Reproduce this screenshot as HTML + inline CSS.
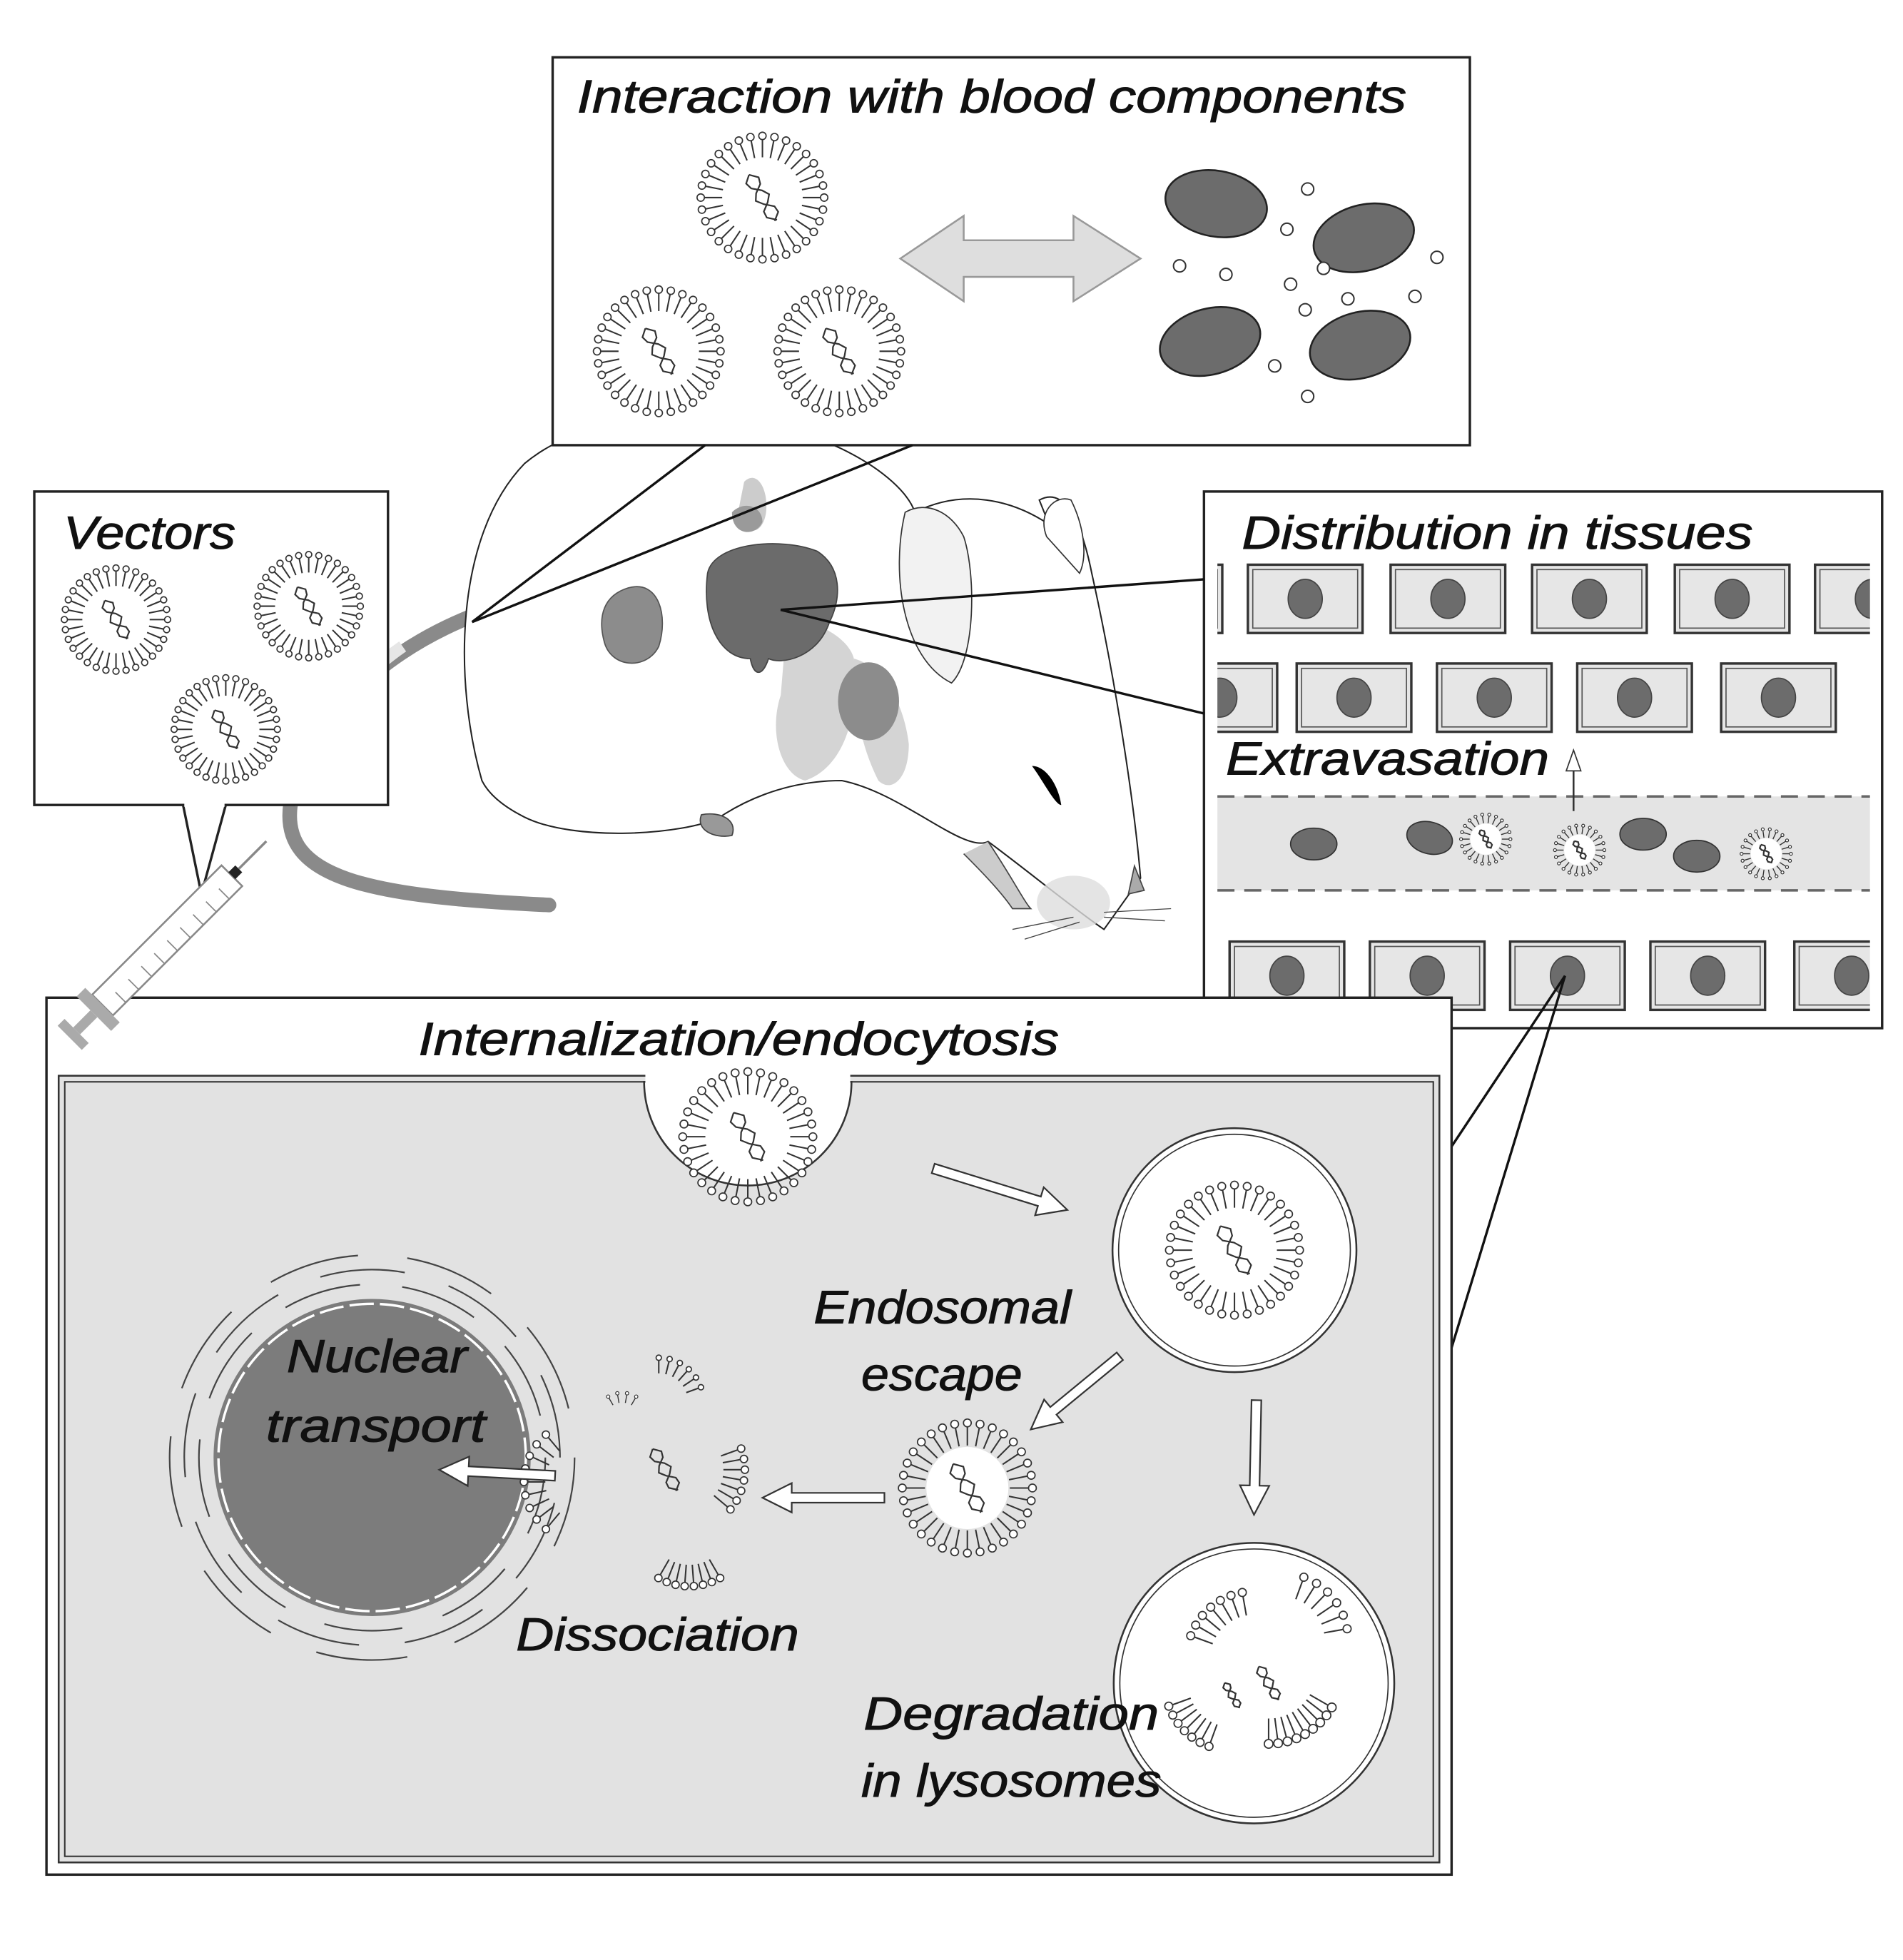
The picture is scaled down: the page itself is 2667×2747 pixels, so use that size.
<!DOCTYPE html>
<html><head><meta charset="utf-8"><style>
html,body{margin:0;padding:0;background:#fff}
svg{display:block}
text{font-family:"Liberation Sans",sans-serif;font-style:italic;fill:#111;stroke:#111;stroke-width:0.6}
</style></head><body>
<svg id="s" width="2667" height="2747" viewBox="0 0 1560 1607" xmlns="http://www.w3.org/2000/svg">

<!-- Mouse tail -->
<path d="M387,505 C300,540 250,600 238,660 C230,720 300,735 450,742" fill="none" stroke="#8a8a8a" stroke-width="12" stroke-linecap="round"/>
<path d="M330,530 C280,565 250,610 238,660" fill="none" stroke="#e6e6e6" stroke-width="10"/>
<!-- Mouse body -->
<path d="M395,640 C372,560 372,440 430,380 C490,330 610,330 690,368 C725,385 745,405 750,420 C790,400 830,410 860,430 L852,410 C870,400 885,420 895,470 C915,560 930,660 935,720 L905,762 C880,745 840,712 810,690 C790,700 740,650 690,640 C640,640 605,660 590,670 C560,685 470,690 430,670 C410,660 400,650 395,640 Z" fill="#fff" stroke="#222" stroke-width="1.2"/>
<path d="M810,690 C830,720 840,740 845,745 L830,745 C820,730 800,710 790,700" fill="#ccc" stroke="#444" stroke-width="1"/>
<path d="M575,668 C590,665 605,672 600,685 C585,688 570,680 575,668Z" fill="#999" stroke="#444"/>
<path d="M930,710 L938,730 L925,733 Z" fill="#aaa" stroke="#444"/>
<ellipse cx="880" cy="740" rx="30" ry="22" fill="#ddd" opacity="0.8"/>
<path d="M742,420 C730,470 740,540 780,560 C800,540 800,470 790,440 C780,420 760,410 742,420Z" fill="#f2f2f2" stroke="#333" stroke-width="1"/>
<path d="M858,440 C850,420 865,405 878,410 C888,430 892,455 885,470 Z" fill="#fff" stroke="#333" stroke-width="1"/>
<path d="M846,628 C855,640 865,660 870,660 C868,645 858,628 846,628Z" fill="#000"/>
<path d="M610,395 C620,385 630,400 628,420 C625,440 610,440 605,420 Z" fill="#ccc"/>
<path d="M600,420 C610,410 625,415 625,428 C620,440 600,440 600,420Z" fill="#9a9a9a"/>
<path d="M515,482 C540,475 548,505 540,530 C530,550 500,548 495,525 C490,505 495,488 515,482Z" fill="#8c8c8c" stroke="#555"/>
<path d="M645,510 C660,505 695,520 700,540 C705,590 690,630 660,640 C640,635 630,600 640,570 Z" fill="#d4d4d4"/>
<path d="M700,540 C720,545 740,570 745,610 C745,640 730,650 720,640 C705,610 700,580 700,540Z" fill="#d4d4d4"/>
<path d="M580,470 C585,445 640,440 670,452 C690,465 690,490 680,510 C670,540 640,545 630,540 C625,555 618,555 615,540 C590,540 575,510 580,470Z" fill="#6b6b6b" stroke="#444"/>
<ellipse cx="712" cy="575" rx="25" ry="32" fill="#8c8c8c"/>
<path d="M880,752 L830,762 M885,756 L840,770 M905,748 L960,745 M905,752 L955,755" stroke="#444" stroke-width="0.8"/>

<!-- Top box -->
<rect x="453" y="47" width="752" height="318" fill="#fff" stroke="#222" stroke-width="2"/>
<text x="473" y="92" font-size="38" textLength="680" lengthAdjust="spacingAndGlyphs">Interaction with blood components</text>
<path d="M738,212 L790,177 L790,197 L880,197 L880,177 L935,212 L880,247 L880,227 L790,227 L790,247 Z" fill="#dedede" stroke="#999" stroke-width="1.5"/>
<g fill="#6c6c6c" stroke="#222" stroke-width="1.5">
<ellipse cx="997" cy="167" rx="42" ry="27" transform="rotate(10 997 167)"/>
<ellipse cx="1118" cy="195" rx="42" ry="27" transform="rotate(-15 1118 195)"/>
<ellipse cx="992" cy="280" rx="42" ry="27" transform="rotate(-15 992 280)"/>
<ellipse cx="1115" cy="283" rx="42" ry="27" transform="rotate(-15 1115 283)"/>
</g>
<g fill="#fff" stroke="#333" stroke-width="1.2">
<circle cx="1072" cy="155" r="5"/><circle cx="1055" cy="188" r="5"/><circle cx="967" cy="218" r="5"/><circle cx="1005" cy="225" r="5"/><circle cx="1058" cy="233" r="5"/><circle cx="1178" cy="211" r="5"/><circle cx="1070" cy="254" r="5"/><circle cx="1105" cy="245" r="5"/><circle cx="1160" cy="243" r="5"/><circle cx="1045" cy="300" r="5"/><circle cx="1072" cy="325" r="5"/><circle cx="1085" cy="220" r="5"/>
</g>
<path d="M578,365 L387,510 L748,365" fill="none" stroke="#111" stroke-width="2"/>

<!-- Vectors box -->
<rect x="28" y="403" width="290" height="257" fill="#fff" stroke="#222" stroke-width="2"/>
<path d="M150,660 L165,733 L185,660" fill="#fff" stroke="#222" stroke-width="2"/>
<line x1="151" y1="660" x2="184" y2="660" stroke="#fff" stroke-width="3"/>
<text x="52" y="450" font-size="38" textLength="141" lengthAdjust="spacingAndGlyphs">Vectors</text>

<!-- Distribution box -->
<rect x="987" y="403" width="556" height="440" fill="#fff" stroke="#222" stroke-width="2"/>
<text x="1018" y="450" font-size="38" textLength="419" lengthAdjust="spacingAndGlyphs">Distribution in tissues</text>
<g id="cells"></g>
<rect x="998" y="653" width="535" height="77" fill="#e4e4e4"/>
<line x1="998" y1="653" x2="1533" y2="653" stroke="#666" stroke-width="2" stroke-dasharray="14,8"/>
<line x1="998" y1="730" x2="1533" y2="730" stroke="#666" stroke-width="2" stroke-dasharray="14,8"/>
<text x="1005" y="635" font-size="38" textLength="265" lengthAdjust="spacingAndGlyphs">Extravasation</text>
<line x1="1290" y1="665" x2="1290" y2="630" stroke="#333" stroke-width="1.5"/>
<path d="M1284,632 L1290,615 L1296,632 Z" fill="#fff" stroke="#333"/>
<g fill="#6c6c6c" stroke="#333" stroke-width="1">
<ellipse cx="1077" cy="692" rx="19" ry="13"/><ellipse cx="1172" cy="687" rx="19" ry="13" transform="rotate(15 1172 687)"/><ellipse cx="1347" cy="684" rx="19" ry="13"/><ellipse cx="1391" cy="702" rx="19" ry="13"/>
</g>
<path d="M1283,800 L1190,940 M1283,800 L1190,1105" stroke="#111" stroke-width="2"/>
<path d="M987,475 L640,500 L987,585" fill="none" stroke="#111" stroke-width="2"/>

<!-- Internalization box -->
<rect x="38" y="818" width="1152" height="719" fill="#fff" stroke="#222" stroke-width="2"/>
<rect x="48" y="882" width="1132" height="645" fill="#e2e2e2" stroke="#333" stroke-width="1.5"/>
<rect x="53" y="887" width="1122" height="635" fill="none" stroke="#333" stroke-width="1.2"/>
<text x="343" y="865" font-size="38" textLength="525" lengthAdjust="spacingAndGlyphs">Internalization/endocytosis</text>
<path d="M528,887 A85,85 0 0 0 698,887 Z" fill="#fff" stroke="#333" stroke-width="1.5"/>
<rect x="529" y="878" width="168" height="10" fill="#fff"/>
<circle cx="1012" cy="1025" r="100" fill="#fff" stroke="#333" stroke-width="1.5"/>
<circle cx="1012" cy="1025" r="95" fill="none" stroke="#333" stroke-width="1"/>
<circle cx="1028" cy="1380" r="115" fill="#fff" stroke="#333" stroke-width="1.5"/>
<circle cx="1028" cy="1380" r="110" fill="none" stroke="#333" stroke-width="1"/>
<circle cx="305" cy="1195" r="130" fill="#7c7c7c"/>
<circle cx="305" cy="1195" r="126" fill="none" stroke="#fff" stroke-width="2" stroke-dasharray="20,5"/>
<g id="er" fill="none" stroke="#444" stroke-width="1.3"></g>
<text x="235" y="1125" font-size="38" textLength="148" lengthAdjust="spacingAndGlyphs">Nuclear</text>
<text x="218" y="1182" font-size="38" textLength="180" lengthAdjust="spacingAndGlyphs">transport</text>
<text x="667" y="1085" font-size="38" textLength="211" lengthAdjust="spacingAndGlyphs">Endosomal</text>
<text x="706" y="1140" font-size="38" textLength="132" lengthAdjust="spacingAndGlyphs">escape</text>
<text x="423" y="1353" font-size="38" textLength="232" lengthAdjust="spacingAndGlyphs">Dissociation</text>
<text x="708" y="1418" font-size="38" textLength="242" lengthAdjust="spacingAndGlyphs">Degradation</text>
<text x="706" y="1473" font-size="38" textLength="246" lengthAdjust="spacingAndGlyphs">in lysosomes</text>
<g id="lipos"></g>
<g id="frags"></g>
<g fill="#fff" stroke="#333" stroke-width="1.3" id="arrows"></g>

<!-- Syringe (on top) -->
<g transform="translate(190,718) rotate(135)">
<rect x="0" y="-12" width="150" height="24" fill="#fff" stroke="#888" stroke-width="1.5"/>
<rect x="-8" y="-4" width="8" height="8" fill="#222"/>
<line x1="-8" y1="0" x2="-40" y2="0" stroke="#888" stroke-width="2"/>
<rect x="150" y="-20" width="10" height="40" fill="#aaa"/>
<rect x="160" y="-4" width="20" height="8" fill="#aaa"/>
<rect x="180" y="-14" width="8" height="28" fill="#aaa"/>
<g stroke="#888" stroke-width="1"><line x1="15" y1="-12" x2="15" y2="0"/><line x1="30" y1="-12" x2="30" y2="0"/><line x1="45" y1="-12" x2="45" y2="0"/><line x1="60" y1="-12" x2="60" y2="0"/><line x1="75" y1="-12" x2="75" y2="0"/><line x1="90" y1="-12" x2="90" y2="0"/><line x1="105" y1="-12" x2="105" y2="0"/><line x1="120" y1="-12" x2="120" y2="0"/><line x1="135" y1="-12" x2="135" y2="0"/></g>
</g>
</svg>
<script>
var NS="http://www.w3.org/2000/svg";
function el(p,t,a){var e=document.createElementNS(NS,t);for(var k in a)e.setAttribute(k,a[k]);p.appendChild(e);return e;}
function lipo(g,cx,cy,R,n,a0,a1){
  var L=el(g,'g',{});
  n=n||30;a0=a0||0;a1=(a1===undefined)?360:a1;
  for(var i=0;i<n;i++){
    var a=(a0+(a1-a0)*i/(a1-a0==360?n:n-1))*Math.PI/180;
    var c=Math.cos(a),s=Math.sin(a);
    el(L,'line',{x1:cx+c*R*0.6,y1:cy+s*R*0.6,x2:cx+c*R*0.86,y2:cy+s*R*0.86,stroke:'#333','stroke-width':R>30?1.2:0.8});
    el(L,'circle',{cx:cx+c*R*0.92,cy:cy+s*R*0.92,r:R*0.055,fill:'#fff',stroke:'#333','stroke-width':R>30?1:0.7});
  }
  return L;
}
function dna(g,cx,cy,R){
  var d='',d2='';
  for(var i=0;i<=8;i++){var t=-R*0.4+R*0.8*i/8;var w=R*0.1*Math.sin(i*1.2);d+=(i?'L':'M')+(cx+t*0.5-w)+','+(cy+t*0.85+w*0.5)+' ';d2+=(i?'L':'M')+(cx+t*0.5+w)+','+(cy+t*0.85-w*0.5)+' ';}
  el(g,'path',{d:d,fill:'none',stroke:'#333','stroke-width':1.3});
  el(g,'path',{d:d2,fill:'none',stroke:'#333','stroke-width':1.3});
}
function full(cx,cy,R,n){var g=document.getElementById('lipos');el(g,'circle',{cx:cx,cy:cy,r:R*0.58,fill:'#fff'});lipo(g,cx,cy,R,n);dna(g,cx,cy,R);}
[[625,162,55],[540,288,55],[688,288,55],[95,508,46],[253,497,46],[185,598,46],[613,932,58],[1012,1025,58],[793,1220,58],[1218,688,22],[1295,697,22],[1448,700,22]].forEach(function(p){full(p[0],p[1],p[2],p[2]>30?32:22);});
var fg=document.getElementById('frags');
lipo(fg,480,1215,55,9,130,230);
lipo(fg,560,1205,55,7,-20,40);
lipo(fg,565,1250,55,8,60,120);
lipo(fg,540,1150,40,6,270,340);
lipo(fg,510,1165,25,4,-120,-60);
dna(fg,545,1205,50);
lipo(fg,1028,1360,60,7,200,260);
lipo(fg,1050,1345,60,6,290,350);
lipo(fg,1040,1370,65,9,30,90);
lipo(fg,1010,1380,60,7,110,160);
dna(fg,1040,1380,40);dna(fg,1010,1390,30);
var cg=document.getElementById('cells');
function cell(cx,cy){el(cg,'rect',{x:cx-47,y:cy-28,width:94,height:56,fill:'#e6e6e6',stroke:'#333','stroke-width':2});el(cg,'rect',{x:cx-43,y:cy-24,width:86,height:48,fill:'none',stroke:'#555','stroke-width':1});el(cg,'ellipse',{cx:cx,cy:cy,rx:14,ry:16,fill:'#6c6c6c',stroke:'#444'});}
var cl=el(cg,'clipPath',{id:'cp'});el(cl,'rect',{x:998,y:460,width:535,height:372});
cg.setAttribute('clip-path','url(#cp)');
[955,1070,1187,1303,1420,1535].forEach(function(x){cell(x,491);});
[1000,1110,1225,1340,1458].forEach(function(x){cell(x,572);});
[1055,1170,1285,1400,1518].forEach(function(x){cell(x,800);});
var er=document.getElementById('er');
for(var k=0;k<3;k++){
  var R=142+k*12;
  for(var a=-200;a<130;a+=40){
    var a1=(a+(k%2?14:0))*Math.PI/180,a2=(a+26+(k%2?14:0))*Math.PI/180;
    el(er,'path',{d:'M'+(305+R*Math.cos(a1))+','+(1195+R*Math.sin(a1))+' A'+R+','+R+' 0 0 1 '+(305+R*Math.cos(a2))+','+(1195+R*Math.sin(a2))});
  }
}
var ag=document.getElementById('arrows');
function arr(x1,y1,x2,y2){var dx=x2-x1,dy=y2-y1,l=Math.hypot(dx,dy),ux=dx/l,uy=dy/l,px=-uy,py=ux,h=24,w=4,hw=12;
var bx=x2-ux*h,by=y2-uy*h;
var pts=[[x1+px*w,y1+py*w],[bx+px*w,by+py*w],[bx+px*hw,by+py*hw],[x2,y2],[bx-px*hw,by-py*hw],[bx-px*w,by-py*w],[x1-px*w,y1-py*w]];
el(ag,'polygon',{points:pts.map(function(p){return p.join(',')}).join(' ')});}
arr(765,958,875,992);arr(918,1112,845,1172);arr(725,1228,625,1228);arr(455,1210,360,1205);arr(1030,1148,1028,1242);
</script>
</body></html>
